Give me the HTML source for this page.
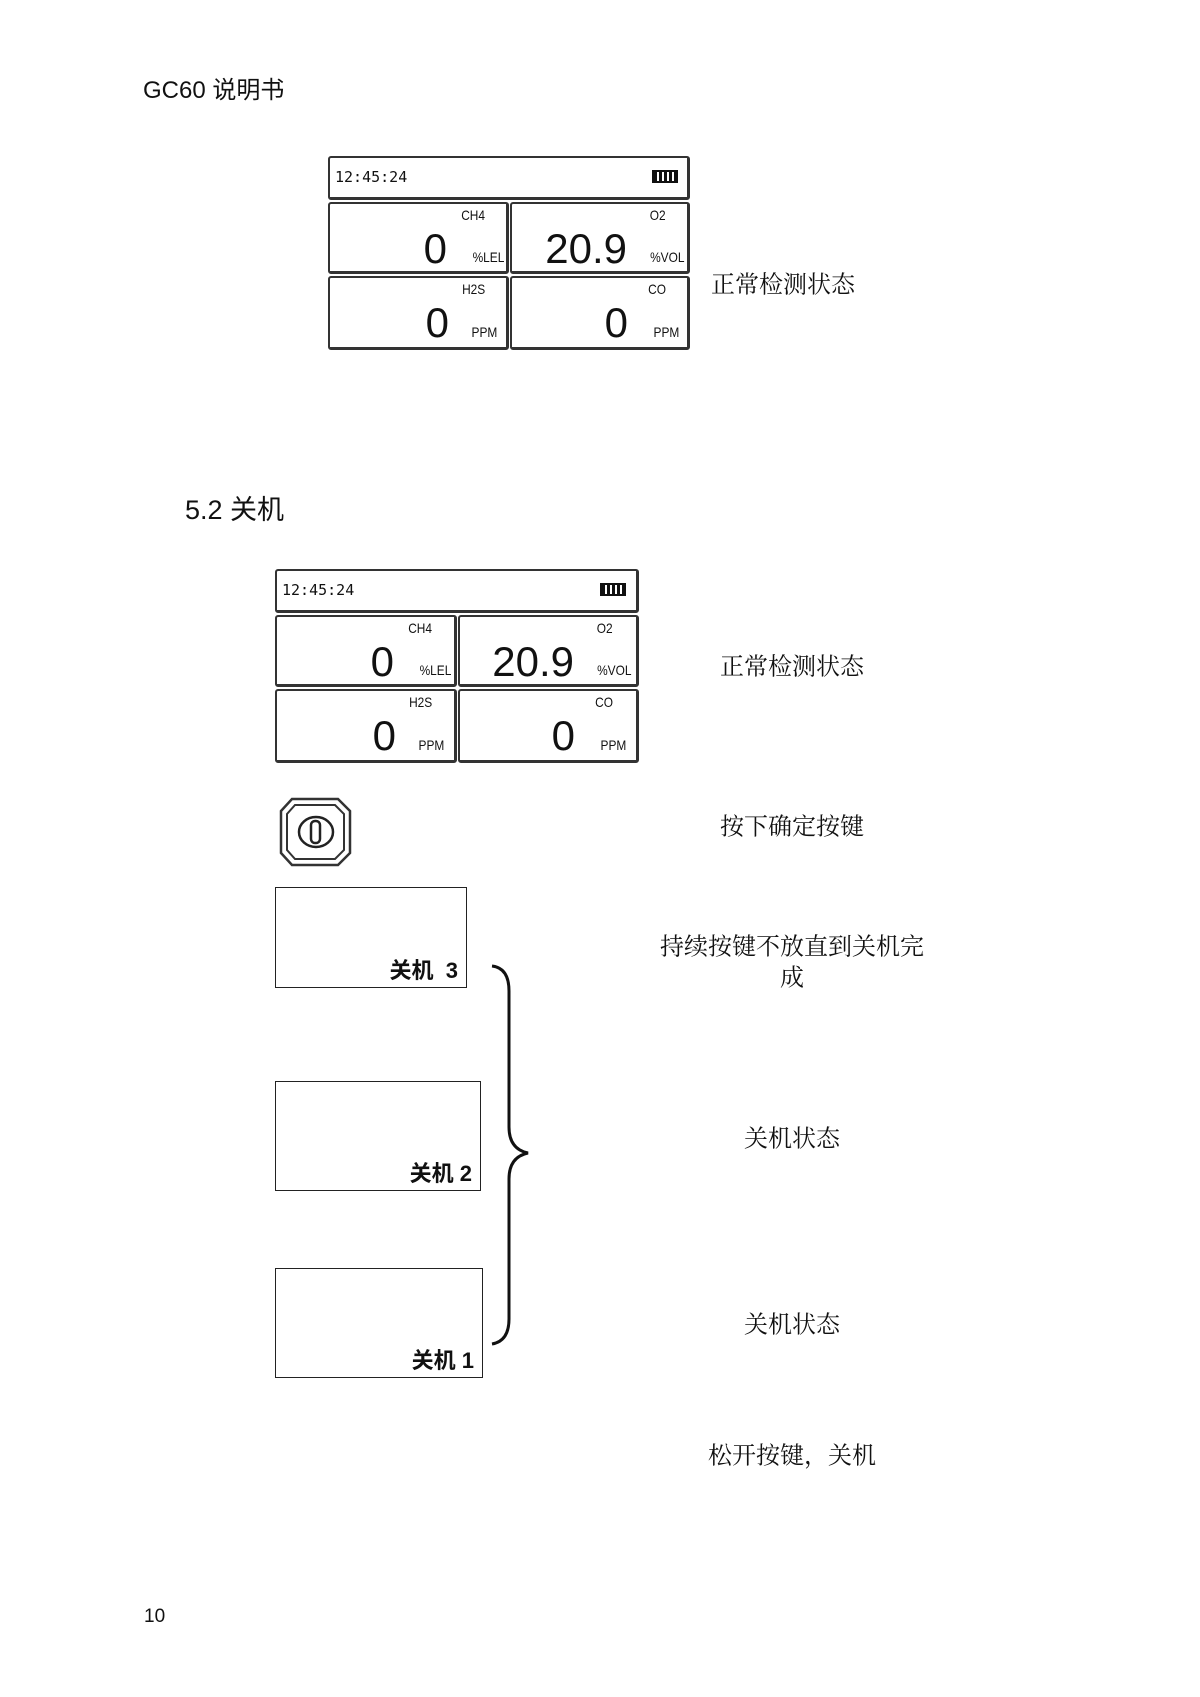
<!DOCTYPE html>
<html><head><meta charset="utf-8"><style>
body{margin:0;width:1200px;height:1697px;background:#fff;position:relative;font-family:"Liberation Sans","Noto Sans CJK SC",sans-serif;color:#111;overflow:hidden}
.a{position:absolute}
.t{position:absolute;font-size:24px;white-space:nowrap;transform:translate(-50%,-50%);font-family:"Liberation Serif","Noto Serif CJK SC",serif}
.scr{position:absolute;width:362px;height:194px}
.b{position:absolute;border:2px solid #333;border-right-width:3px;border-bottom-width:3px;border-radius:3px;box-sizing:border-box;background:#fff}
.m{font-family:"DejaVu Sans Mono","Liberation Mono",monospace;position:absolute;white-space:nowrap}
.big{position:absolute;font-family:"Liberation Sans",sans-serif;font-size:42px;line-height:1;white-space:nowrap}
.u{position:absolute;font-family:"Liberation Sans Narrow","Liberation Sans",sans-serif;font-size:14px;transform:scaleX(.85);transform-origin:right;white-space:nowrap}
.bx{position:absolute;border:1px solid #222;box-sizing:border-box}
.bx span{position:absolute;right:8px;bottom:2px;font-weight:bold;font-size:22px;font-family:"Liberation Sans","Noto Sans CJK SC",sans-serif}
</style></head><body>
<div class="a" style="left:143px;top:70px;font-size:24px">GC60 说明书</div>

<div class="scr" style="left:328px;top:156px">
 <div class="b" style="left:0;top:0;width:362px;height:44px"></div>
 <div class="m" style="left:7px;top:12px;font-size:15px">12:45:24</div>
 <div class="a" style="left:324px;top:14px;width:26px;height:13px;border:2px solid #111;box-sizing:border-box;background:repeating-linear-gradient(90deg,#111 0 3px,#fff 3px 5px)"></div>
 <div class="b" style="left:0;top:46px;width:181px;height:72px"></div>
 <div class="b" style="left:182px;top:46px;width:180px;height:72px"></div>
 <div class="b" style="left:0;top:120px;width:181px;height:74px"></div>
 <div class="b" style="left:182px;top:120px;width:180px;height:74px"></div>
 <div class="u" style="right:205px;top:51px">CH4</div>
 <div class="u" style="right:24px;top:51px">O2</div>
 <div class="u" style="right:205px;top:125px">H2S</div>
 <div class="u" style="right:24px;top:125px">CO</div>
 <div class="big" style="right:243px;top:72px">0</div>
 <div class="u" style="right:186px;top:93px">%LEL</div>
 <div class="big" style="right:63px;top:72px">20.9</div>
 <div class="u" style="right:6px;top:93px">%VOL</div>
 <div class="big" style="right:241px;top:146px">0</div>
 <div class="u" style="right:193px;top:168px">PPM</div>
 <div class="big" style="right:62px;top:146px">0</div>
 <div class="u" style="right:11px;top:168px">PPM</div>
</div>
<div class="t" style="left:783px;top:282px">正常检测状态</div>

<div class="a" style="left:185px;top:488px;font-size:27px">5.2 关机</div>

<div class="scr" style="left:275px;top:569px">
 <div class="b" style="left:0;top:0;width:364px;height:44px"></div>
 <div class="m" style="left:7px;top:12px;font-size:15px">12:45:24</div>
 <div class="a" style="left:325px;top:14px;width:26px;height:13px;border:2px solid #111;box-sizing:border-box;background:repeating-linear-gradient(90deg,#111 0 3px,#fff 3px 5px)"></div>
 <div class="b" style="left:0;top:46px;width:182px;height:72px"></div>
 <div class="b" style="left:183px;top:46px;width:181px;height:72px"></div>
 <div class="b" style="left:0;top:120px;width:182px;height:74px"></div>
 <div class="b" style="left:183px;top:120px;width:181px;height:74px"></div>
 <div class="u" style="right:205px;top:51px">CH4</div>
 <div class="u" style="right:24px;top:51px">O2</div>
 <div class="u" style="right:205px;top:125px">H2S</div>
 <div class="u" style="right:24px;top:125px">CO</div>
 <div class="big" style="right:243px;top:72px">0</div>
 <div class="u" style="right:186px;top:93px">%LEL</div>
 <div class="big" style="right:63px;top:72px">20.9</div>
 <div class="u" style="right:6px;top:93px">%VOL</div>
 <div class="big" style="right:241px;top:146px">0</div>
 <div class="u" style="right:193px;top:168px">PPM</div>
 <div class="big" style="right:62px;top:146px">0</div>
 <div class="u" style="right:11px;top:168px">PPM</div>
</div>
<div class="t" style="left:792px;top:664px">正常检测状态</div>

<svg class="a" style="left:278px;top:796px" width="76" height="72" viewBox="0 0 76 72">
 <path d="M14 3 H60 L72 15 V57 L60 69 H14 L3 57 V15 Z" fill="none" stroke="#333" stroke-width="2.5"/>
 <path d="M17 9 H57 L66 18 V54 L57 63 H17 L9 54 V18 Z" fill="none" stroke="#333" stroke-width="2"/>
 <ellipse cx="38" cy="36" rx="17" ry="15" fill="none" stroke="#222" stroke-width="2.5"/>
 <rect x="33" y="25" width="9" height="22" rx="4" fill="none" stroke="#222" stroke-width="2.5"/>
</svg>
<div class="t" style="left:792px;top:824px">按下确定按键</div>

<div class="bx" style="left:275px;top:887px;width:192px;height:101px"><span>关机&nbsp; 3</span></div>
<div class="bx" style="left:275px;top:1081px;width:206px;height:110px"><span>关机 2</span></div>
<div class="bx" style="left:275px;top:1268px;width:208px;height:110px"><span>关机 1</span></div>

<svg class="a" style="left:488px;top:959px" width="45" height="392">
 <path d="M4 7 Q21 9 21 32 V168 Q21 190 40 194 Q21 198 21 220 V360 Q21 382 4 385" fill="none" stroke="#111" stroke-width="3"/>
</svg>

<div class="t" style="left:792px;top:944px">持续按键不放直到关机完</div>
<div class="t" style="left:792px;top:975px">成</div>
<div class="t" style="left:792px;top:1136px">关机状态</div>
<div class="t" style="left:792px;top:1322px">关机状态</div>
<div class="t" style="left:792px;top:1453px">松开按键，关机</div>
<div class="a" style="left:144px;top:1607px;font-size:19px;line-height:1">10</div>
</body></html>
